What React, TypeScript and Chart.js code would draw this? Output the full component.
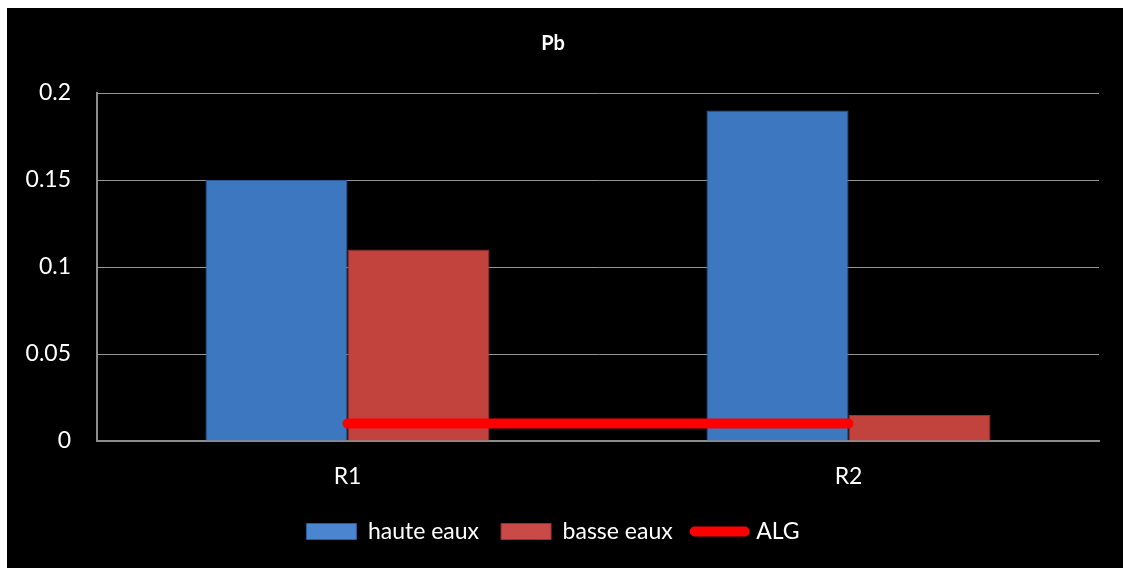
import React, { useEffect, useRef } from 'react';
import { Chart, registerables } from 'chart.js';

Chart.register(...registerables);

const categories = ['R1', 'R2'];
const hauteEaux = [0.15, 0.19];
const basseEaux = [0.11, 0.015];
const alg = [0.01, 0.01];
const yMin = 0;
const yMax = 0.2;
const yStep = 0.05;

const FONT = 'Lato, "Open Sans", sans-serif';

export default function App() {
  const ref = useRef<HTMLCanvasElement | null>(null);

  useEffect(() => {
    if (!ref.current) return;
    const chart = new Chart(ref.current, {
      type: 'bar',
      data: {
        labels: categories,
        datasets: [
          {
            type: 'bar',
            label: 'haute eaux',
            data: hauteEaux,
            backgroundColor: '#3d77c0',
            borderColor: '#2d5c98',
            borderWidth: 1,
            order: 2,
          },
          {
            type: 'bar',
            label: 'basse eaux',
            data: basseEaux,
            backgroundColor: '#c2423e',
            borderColor: '#943230',
            borderWidth: 1,
            order: 2,
          },
          {
            type: 'line',
            label: 'ALG',
            data: alg,
            borderColor: '#ff0000',
            backgroundColor: '#ff0000',
            borderWidth: 10,
            borderCapStyle: 'round',
            pointRadius: 0,
            order: 0,
          } as any,
        ],
      },
      options: {
        animation: false,
        responsive: true,
        maintainAspectRatio: false,
        layout: { padding: { left: 0, right: 24, top: 0, bottom: 15 } },
        datasets: {
          bar: { barPercentage: 1, categoryPercentage: 0.567 },
        },
        plugins: {
          tooltip: { enabled: false },
          title: {
            display: true,
            text: 'Pb',
            color: '#ffffff',
            font: { family: FONT, size: 20, weight: 'bold' },
            padding: { top: 24, bottom: 37 },
          },
          legend: {
            position: 'bottom',
            labels: {
              color: '#ffffff',
              font: { family: FONT, size: 23 },
              usePointStyle: true,
              pointStyleWidth: 50,
              boxWidth: 50,
              boxHeight: 16,
              padding: 22,
              sort: (a: any, b: any) => a.datasetIndex - b.datasetIndex,
              generateLabels: (c: any) => {
                const items = (Chart.defaults.plugins.legend.labels as any).generateLabels(c);
                return items.map((it: any) => {
                  if (it.text === 'ALG') {
                    return { ...it, pointStyle: 'line', strokeStyle: '#ff0000', lineWidth: 10, lineCap: 'round' };
                  }
                  const isBlue = it.text === 'haute eaux';
                  return {
                    ...it,
                    pointStyle: 'rect',
                    fillStyle: isBlue ? '#4a86d0' : '#c94a46',
                    strokeStyle: isBlue ? '#2d5c98' : '#943230',
                    lineWidth: 1,
                  };
                });
              },
            },
          },
        },
        scales: {
          x: {
            grid: { display: false, drawTicks: false },
            border: { display: true, color: '#8c8c8c', width: 2 },
            ticks: { color: '#ffffff', font: { family: FONT, size: 23 }, padding: 22 },
            afterFit: (s: any) => { s.height = 57; },
          },
          y: {
            min: yMin,
            max: yMax,
            grid: { color: '#969696', lineWidth: 1, drawTicks: false },
            border: { display: true, color: '#8c8c8c', width: 2 },
            ticks: {
              stepSize: yStep,
              color: '#ffffff',
              font: { family: FONT, size: 23 },
              padding: 26,
              callback: (v: any) => String(Number(Number(v).toFixed(2))),
            },
            afterFit: (s: any) => { s.width = 90; },
          },
        },
      },
    });
    return () => chart.destroy();
  }, []);

  return (
    <div style={{ position: 'fixed', left: 7, top: 8, right: 0, bottom: 0, background: '#000' }}>
      <canvas ref={ref} />
    </div>
  );
}
